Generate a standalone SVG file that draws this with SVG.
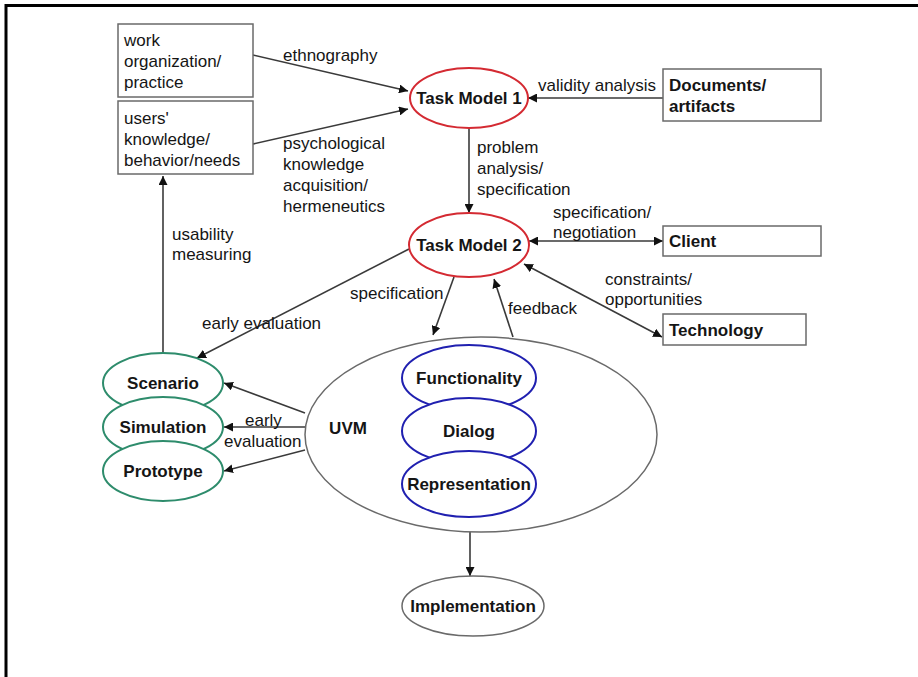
<svg xmlns="http://www.w3.org/2000/svg" width="918" height="677" viewBox="0 0 918 677">
<style>
text{font-family:"Liberation Sans",Arial,sans-serif;font-size:17px;fill:#151515}
.b{font-weight:bold}
.box{fill:#fff;stroke:#6a6a6a;stroke-width:1.5}
.red{fill:#fff;stroke:#d42a32;stroke-width:2}
.blue{fill:#fff;stroke:#2020b0;stroke-width:2}
.green{fill:#fff;stroke:#2e8c6c;stroke-width:2}
.gray{fill:#fff;stroke:#6a6a6a;stroke-width:1.5}
.c line{stroke:#3a3a3a;stroke-width:1.6}
</style>
<defs>
<marker id="ah" viewBox="0 0 10 10" refX="10" refY="5" markerWidth="9" markerHeight="9" markerUnits="userSpaceOnUse" orient="auto-start-reverse">
<path d="M0,0 L10,5 L0,10 z" fill="#111"/>
</marker>
</defs>
<rect width="918" height="677" fill="#fff"/>
<path d="M6,677 V5.5 H918" fill="none" stroke="#000" stroke-width="3"/>

<g class="c" id="connectors">
<line x1="253" y1="55" x2="408" y2="91" marker-end="url(#ah)"/>
<line x1="253" y1="144" x2="408" y2="109" marker-end="url(#ah)"/>
<line x1="663" y1="98" x2="528" y2="98" marker-end="url(#ah)"/>
<line x1="469" y1="128" x2="469" y2="213" marker-end="url(#ah)"/>
<line x1="529" y1="241" x2="663" y2="241" marker-start="url(#ah)" marker-end="url(#ah)"/>
<line x1="524" y1="264" x2="662" y2="337" marker-start="url(#ah)" marker-end="url(#ah)"/>
<line x1="163" y1="353" x2="163" y2="176" marker-end="url(#ah)"/>
<line x1="409" y1="249" x2="197" y2="358" marker-end="url(#ah)"/>
<line x1="454" y1="277" x2="433" y2="335" marker-end="url(#ah)"/>
<line x1="513" y1="337" x2="494" y2="279" marker-end="url(#ah)"/>
<line x1="305" y1="413" x2="224" y2="383" marker-end="url(#ah)"/>
<line x1="305" y1="427" x2="224" y2="427" marker-end="url(#ah)"/>
<line x1="305" y1="450" x2="224" y2="471" marker-end="url(#ah)"/>
<line x1="470" y1="532" x2="470" y2="576" marker-end="url(#ah)"/>
</g>

<g id="labels">
<text x="283" y="61">ethnography</text>
<text x="283" y="149">psychological</text>
<text x="283" y="170">knowledge</text>
<text x="283" y="191">acquisition/</text>
<text x="283" y="212">hermeneutics</text>
<text x="538" y="91">validity analysis</text>
<text x="477" y="153">problem</text>
<text x="477" y="174">analysis/</text>
<text x="477" y="195">specification</text>
<text x="553" y="218">specification/</text>
<text x="553" y="238">negotiation</text>
<text x="605" y="285">constraints/</text>
<text x="605" y="305">opportunities</text>
<text x="172" y="240">usability</text>
<text x="172" y="260">measuring</text>
<text x="350" y="299">specification</text>
<text x="508" y="314">feedback</text>
<text x="202" y="329">early evaluation</text>
<text x="245" y="426">early</text>
<text x="224" y="447">evaluation</text>
<text x="553" y="426">maintaining</text>
<text x="553" y="446">consistency</text>
</g>

<g id="work">
<rect class="box" x="118" y="24" width="135" height="73"/>
<text x="124" y="46">work</text>
<text x="124" y="67">organization/</text>
<text x="124" y="88">practice</text>
</g>
<g id="users">
<rect class="box" x="118" y="101" width="135" height="73"/>
<text x="124" y="124">users'</text>
<text x="124" y="145">knowledge/</text>
<text x="124" y="166">behavior/needs</text>
</g>
<g id="documents">
<rect class="box" x="663" y="69" width="158" height="52"/>
<text class="b" x="669" y="91">Documents/</text>
<text class="b" x="669" y="112">artifacts</text>
</g>
<g id="client">
<rect class="box" x="663" y="226" width="158" height="30"/>
<text class="b" x="669" y="247">Client</text>
</g>
<g id="technology">
<rect class="box" x="663" y="314" width="143" height="31"/>
<text class="b" x="669" y="336">Technology</text>
</g>
<g id="taskmodel1">
<ellipse class="red" cx="469" cy="98" rx="59" ry="30"/>
<text class="b" x="469" y="104" text-anchor="middle">Task Model 1</text>
</g>
<g id="taskmodel2">
<ellipse class="red" cx="469" cy="245" rx="60" ry="32"/>
<text class="b" x="469" y="251" text-anchor="middle">Task Model 2</text>
</g>
<g id="uvm">
<ellipse class="gray" cx="481" cy="434.5" rx="176" ry="97.5"/>
<text class="b" x="348" y="434" text-anchor="middle">UVM</text>
</g>
<g id="functionality">
<ellipse class="blue" cx="469" cy="378" rx="67" ry="33"/>
<text class="b" x="469" y="384" text-anchor="middle">Functionality</text>
</g>
<g id="dialog">
<ellipse class="blue" cx="469" cy="431" rx="67" ry="33"/>
<text class="b" x="469" y="437" text-anchor="middle">Dialog</text>
</g>
<g id="representation">
<ellipse class="blue" cx="469" cy="484" rx="67" ry="33"/>
<text class="b" x="469" y="490" text-anchor="middle">Representation</text>
</g>
<g id="scenario">
<ellipse class="green" cx="163" cy="383" rx="60" ry="30"/>
<text class="b" x="163" y="389" text-anchor="middle">Scenario</text>
</g>
<g id="simulation">
<ellipse class="green" cx="163" cy="427" rx="60" ry="30"/>
<text class="b" x="163" y="433" text-anchor="middle">Simulation</text>
</g>
<g id="prototype">
<ellipse class="green" cx="163" cy="471" rx="60" ry="30"/>
<text class="b" x="163" y="477" text-anchor="middle">Prototype</text>
</g>
<g id="implementation">
<ellipse class="gray" cx="473" cy="606" rx="71" ry="30"/>
<text class="b" x="473" y="612" text-anchor="middle">Implementation</text>
</g>
</svg>
